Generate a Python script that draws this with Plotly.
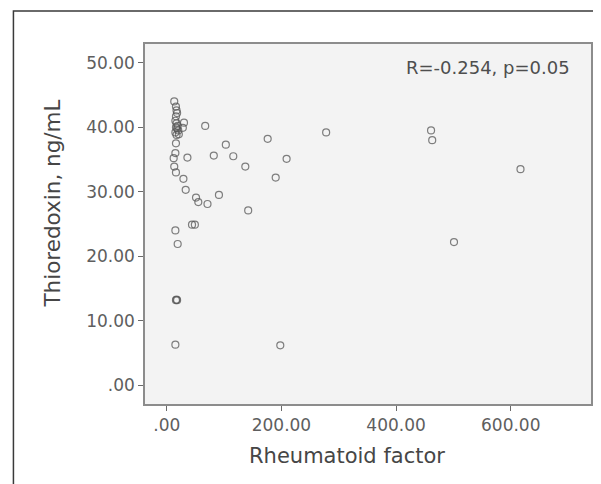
import plotly.graph_objects as go

# Data
rheumatoid_factor = [13, 16, 17, 18, 16, 15, 17, 19, 16, 18,
                     20, 15, 17, 21, 30, 28, 67, 16, 15, 12,
                     36, 13, 16, 29, 33, 51, 55, 71, 91, 44,
                     49, 15, 19, 16, 17, 18, 15, 198, 82, 103,
                     116, 137, 142, 176, 190, 209, 278, 461, 463, 501,
                     617]
thioredoxin = [44.0, 43.2, 42.6, 42.2, 41.7, 41.0, 40.6, 40.2, 40.0, 39.8,
               39.5, 39.2, 38.8, 38.9, 40.7, 39.9, 40.2, 37.5, 36.0, 35.2,
               35.3, 33.9, 33.0, 32.0, 30.3, 29.1, 28.4, 28.1, 29.5, 24.9,
               24.9, 24.0, 21.9, 13.2, 13.3, 13.2, 6.3, 6.2, 35.6, 37.3,
               35.5, 33.9, 27.1, 38.2, 32.2, 35.1, 39.2, 39.5, 38.0, 22.2,
               33.5]

x_tickvals = [0, 200, 400, 600]
x_ticktext = [".00", "200.00", "400.00", "600.00"]
y_tickvals = [0, 10, 20, 30, 40, 50]
y_ticktext = [".00", "10.00", "20.00", "30.00", "40.00", "50.00"]

x_title = "Rheumatoid factor"
y_title = "Thioredoxin, ng/mL"
stat_text = "R=-0.254, p=0.05"

FONT = "DejaVu Sans"

fig = go.Figure()
fig.add_trace(go.Scatter(
    x=rheumatoid_factor, y=thioredoxin, mode="markers",
    marker=dict(symbol="circle-open", size=7,
                color="rgba(85,85,85,0.75)",
                line=dict(width=1.2, color="rgba(85,85,85,0.75)")),
    showlegend=False, hoverinfo="x+y",
))

axis_common = dict(
    showline=True, linecolor="#8c8c8c", linewidth=1.5, mirror=True,
    ticks="outside", ticklen=5, tickcolor="#6a6a6a", tickwidth=1,
    showgrid=False, zeroline=False,
    tickfont=dict(family=FONT, size=17, color="#5e5e5e"),
)

# page has an 8px body margin, so the figure is sized/offset to compensate
fig.update_layout(
    width=593, height=476,
    margin=dict(l=137, r=8, t=36, b=80),
    paper_bgcolor="white",
    plot_bgcolor="#f3f3f3",
    xaxis=dict(range=[-38, 740], tickvals=x_tickvals, ticktext=x_ticktext,
               **axis_common),
    yaxis=dict(range=[-2.9, 52.9], tickvals=y_tickvals, ticktext=y_ticktext,
               **axis_common),
    shapes=[
        dict(type="rect", xref="paper", yref="paper",
             x0=-0.295, x1=1.0105, y0=-0.4, y1=1.0917,
             line=dict(color="#3a3a3a", width=1.5), layer="below"),
    ],
    annotations=[
        dict(text=stat_text, xref="paper", yref="paper", x=0.957, y=0.935,
             xanchor="right", yanchor="middle", showarrow=False,
             font=dict(family=FONT, size=18, color="#4e4e4e")),
        dict(text=x_title, xref="paper", yref="paper", x=0.4527, y=-0.1444,
             xanchor="center", yanchor="middle", showarrow=False,
             font=dict(family=FONT, size=21, color="#464646")),
        dict(text=y_title, xref="paper", yref="paper", x=-0.208, y=0.5575,
             xanchor="center", yanchor="middle", showarrow=False, textangle=-90,
             font=dict(family=FONT, size=21.5, color="#464646")),
    ],
)

fig.write_html("out.html")
